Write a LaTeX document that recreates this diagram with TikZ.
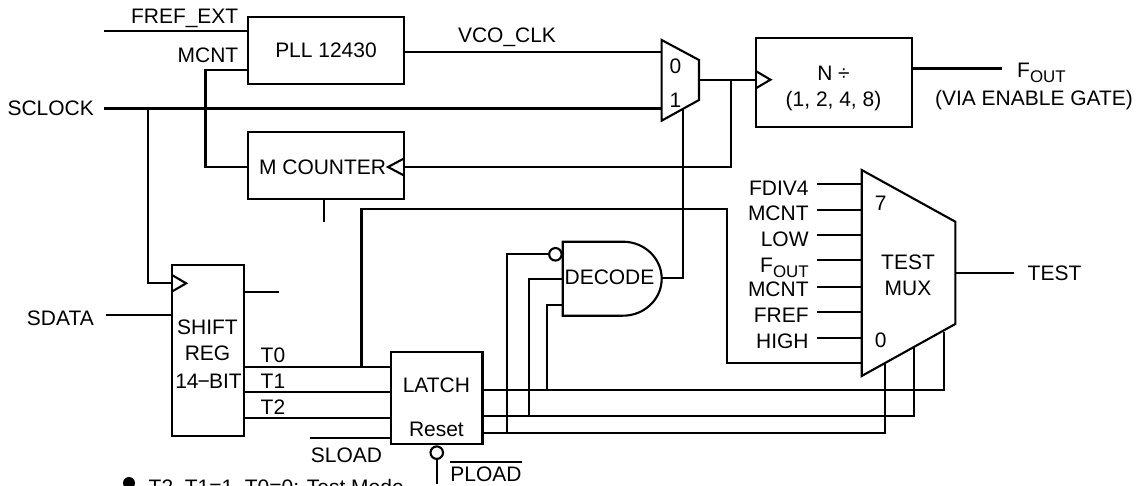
\documentclass[tikz,border=0pt]{standalone}
\usepackage{fontspec}
\setmainfont{Liberation Sans}
\usetikzlibrary{positioning, shapes.geometric}

\newcommand{\fout}{F\raisebox{-0.45ex}{\fontsize{4.8pt}{5pt}\selectfont OUT}}

\tikzset{
  wire/.style={line width=0.6pt},
  block/.style={draw, line width=0.6pt, inner sep=0pt, font=\fontsize{5.97pt}{7pt}\selectfont},
  lbl/.style={inner sep=0pt, text height=0.15cm, text depth=0pt, font=\fontsize{5.97pt}{7pt}\selectfont},
  bubble/.style={circle, draw, line width=0.6pt, minimum size=0.125cm, inner sep=0pt},
  dot/.style={circle, fill=black, minimum size=0.12cm, inner sep=0pt}
}

\begin{document}
\begin{tikzpicture}
  \useasboundingbox (0,0) rectangle (11.38,4.85);

  % blocks
  \node[block, minimum width=1.56cm, minimum height=0.67cm] (pll) at (3.26,4.345) {PLL 12430};
  \node[block, minimum width=1.56cm, minimum height=0.67cm] (mcounter) at (3.26,3.195) {};
  \node[block, minimum width=1.56cm, minimum height=0.89cm] (ndiv) at (8.34,4.025) {};
  \node[block, minimum width=0.72cm, minimum height=1.713cm] (shift) at (2.076,1.3435) {};
  \node[block, minimum width=0.915cm, minimum height=0.92cm] (latch) at (4.3675,0.867) {};
  \node[lbl] (mcountertxt) at (3.226,3.18) {M COUNTER};
  \node[lbl] (ndivtxt) at (8.335,4.12) {N ÷};
  \node[lbl] (ndivset) at (8.335,3.86) {(1, 2, 4, 8)};
  \node[lbl] (shifttxt) at (2.075,1.583) {SHIFT};
  \node[lbl] (regtxt) at (2.075,1.32) {REG};
  \node[lbl] (bittxt) at (2.085,1.04) {14\kern-0.25pt−\kern-0.25ptBIT};
  \node[lbl] (latchtxt) at (4.364,1.0) {LATCH};
  \node[lbl] (resettxt) at (4.364,0.56) {Reset};

  % clock mux
  \coordinate (cka) at (6.616,4.45); \coordinate (ckb) at (6.99,4.25);
  \coordinate (ckc) at (6.99,3.85); \coordinate (ckd) at (6.616,3.643);
  \draw[wire] (cka) -- (ckb) -- (ckc) -- (ckd) -- cycle;
  \node[lbl] (ck0) at (6.755,4.19) {0};
  \node[lbl] (ck1) at (6.755,3.85) {1};

  % test mux
  \coordinate (tma) at (8.617,3.15); \coordinate (tmb) at (9.553,2.633);
  \coordinate (tmc) at (9.553,1.61); \coordinate (tmd) at (8.617,1.09);
  \draw[wire] (tma) -- (tmb) -- (tmc) -- (tmd) -- cycle;
  \node[lbl] (tm7) at (8.807,2.823) {7};
  \node[lbl] (tm0) at (8.807,1.45) {0};
  \node[lbl] (tmtest) at (9.08,2.233) {TEST};
  \node[lbl] (tmmux) at (9.08,1.97) {MUX};

  % decode gate
  \coordinate (deca) at (5.627,2.433);
  \draw[wire] (deca) -- (6.23,2.433) arc[start angle=90, end angle=-90, x radius=0.387, y radius=0.37] -- (5.627,1.693) -- cycle;
  \node[lbl] (dectxt) at (6.095,2.083) {DECODE};
  \node[bubble, anchor=east] (decinv) at (5.627,2.307) {};

  % inputs of the test mux
  \foreach \n/\yin/\ylab/\txt in {a/3.01/2.97/FDIV4, b/2.753/2.72/MCNT, c/2.497/2.463/LOW, d/2.247/2.20/\fout, e/1.983/1.96/MCNT, f/1.73/1.70/FREF, g/1.47/1.44/HIGH} {
    \coordinate (in\n) at (8.173,\yin);
    \draw[wire] (in\n) -- (in\n -| tma);
    \node[lbl, anchor=east] (lab\n) at (8.093,\ylab) {\txt};
  }

  % pins
  \coordinate (frefin) at (1.044,4.54);
  \coordinate (sclk) at (1.04,3.765);
  \coordinate (sbr) at (1.484,3.765);
  \coordinate (ck0in) at (6.616,4.33);
  \coordinate (ck1in) at (6.616,3.765);
  \coordinate (ckout) at (6.99,4.053);
  \coordinate (nclk) at (7.56,4.053);
  \coordinate (nbr) at (7.31,4.053);
  \coordinate (mclk) at (4.04,3.18);
  \coordinate (mcntout) at (2.48,4.15);
  \coordinate (mcntcor) at (2.055,4.15);
  \coordinate (mcntin) at (2.48,3.18);
  \coordinate (mstub) at (3.24,2.63);
  \coordinate (foutend) at (10.016,4.165);
  \coordinate (shclk) at (1.716,2.017);
  \coordinate (sdatain) at (1.055,1.70);
  \coordinate (sdatapin) at (1.716,1.70);
  \coordinate (shout) at (2.785,1.933);
  \coordinate (t0) at (3.91,1.183);
  \coordinate (t0br) at (3.615,1.183);
  \coordinate (t1) at (3.91,0.93);
  \coordinate (t2) at (3.91,0.67);
  \coordinate (sload) at (3.10,0.47);
  \coordinate (loadend) at (4.3675,0.01);
  \coordinate (la0) at (4.825,0.953);
  \coordinate (la1) at (4.825,0.693);
  \coordinate (la2) at (4.825,0.523);
  \coordinate (decout) at (6.617,2.067);
  \coordinate (selck) at (6.827,3.76);
  \coordinate (dec2) at (5.627,2.06);
  \coordinate (dec3) at (5.627,1.80);
  \coordinate (sel0) at (9.437,1.533);
  \coordinate (sel1) at (9.143,1.383);
  \coordinate (sel2) at (8.853,1.21);
  \coordinate (t0in) at (8.617,1.223);
  \coordinate (testout) at (10.14,2.117);

  % connectors
  \draw[wire] (frefin) -- (frefin -| pll.west);
  \draw[wire] (ck0in -| pll.east) -- (ck0in);
  \draw[wire] (sclk) -- (ck1in);
  \draw[wire] (sbr) |- (shclk);
  \draw[wire] (mcntout) -- (mcntcor) |- (mcntin);
  \draw[wire] (mstub |- mcounter.south) -- (mstub);
  \draw[wire] (ckout) -- (nclk);
  \draw[wire] (nbr) |- (mclk);
  \draw[wire] (foutend -| ndiv.east) -- (foutend);
  \draw[wire] (sdatain) -- (sdatapin);
  \draw[wire] (shout -| shift.east) -- (shout);
  \draw[wire] (t0 -| shift.east) -- (t0);
  \draw[wire] (t1 -| shift.east) -- (t1);
  \draw[wire] (t2 -| shift.east) -- (t2);
  \draw[wire] (t0br) -- (3.615,2.76) -| (7.273,1.223) -- (t0in);
  \draw[wire] (sload) -- (sload -| latch.west);
  \draw[wire] (decout) -| (selck);
  \draw[wire] (la0) -| (sel0);
  \draw[wire] (la1) -| (sel1);
  \draw[wire] (la2) -| (sel2);
  \draw[wire] (decinv.west) -- (5.067,2.307) -- (5.067,0.523);
  \draw[wire] (dec2) -- (5.29,2.06) -- (5.29,0.693);
  \draw[wire] (dec3) -- (5.47,1.80) -- (5.47,0.953);
  \draw[wire] (tmb |- testout) -- (testout);
  \node[bubble, anchor=north] (loadinv) at (latch.south) {};
  \draw[wire] (loadinv.south) -- (loadend);

  % clock marks
  \draw[wire] (shclk) ++(0,0.085) -- ++(0.145,-0.085) -- ++(-0.145,-0.085);
  \draw[wire] (nclk) ++(0,0.085) -- ++(0.145,-0.085) -- ++(-0.145,-0.085);
  \draw[wire] (mclk) ++(0,0.085) -- ++(-0.16,-0.085) -- ++(0.16,-0.085);

  % labels
  \node[lbl, anchor=east] (freftxt) at (2.39,4.685) {FREF\_EXT};
  \node[lbl, anchor=east] (mcnttxt) at (2.39,4.30) {MCNT};
  \node[lbl, anchor=east] (sclktxt) at (0.945,3.77) {SCLOCK};
  \node[lbl] (vcotxt) at (5.07,4.50) {VCO\_CLK};
  \node[lbl, anchor=west] (fouttxt) at (10.165,4.15) {\fout};
  \node[lbl] (viatxt) at (10.34,3.87) {(VIA ENABLE GATE)};
  \node[lbl, anchor=east] (sdatatxt) at (0.945,1.67) {SDATA};
  \node[lbl, anchor=west] (t0txt) at (2.60,1.30) {T0};
  \node[lbl, anchor=west] (t1txt) at (2.60,1.04) {T1};
  \node[lbl, anchor=west] (t2txt) at (2.60,0.783) {T2};
  \node[lbl] (sloadtxt) at (3.465,0.30) {SLOAD};
  \node[lbl] (ploadtxt) at (4.86,0.11) {$\overline{\mbox{PLOAD}}$};
  \node[lbl, anchor=west] (testtxt) at (10.27,2.12) {TEST};
  \node[dot] (bullet) at (1.29,0.02) {};
  \node[lbl, anchor=west] (modetxt) at (1.48,-0.015) {T2, T1=1, T0=0: Test Mode};
\end{tikzpicture}
\end{document}
